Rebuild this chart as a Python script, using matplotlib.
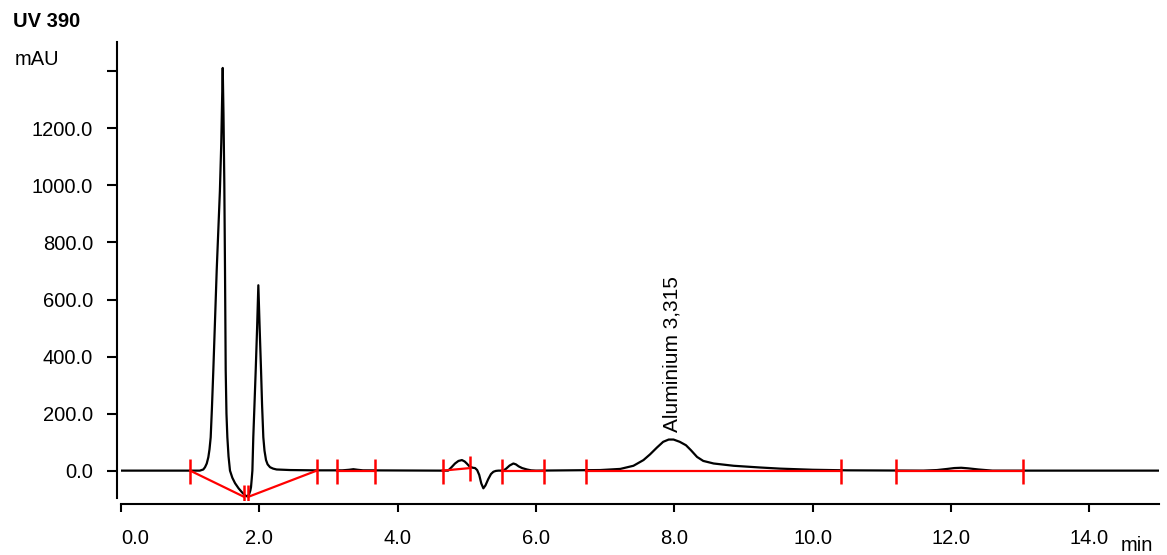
import numpy as np
import matplotlib
matplotlib.use("Agg")
import matplotlib.pyplot as plt
from matplotlib.ticker import FixedLocator, FuncFormatter

plt.rcParams['font.family'] = ['Liberation Sans', 'DejaVu Sans']

# chromatogram trace (min, mAU)
time_min = [0.0, 1.10, 1.14, 1.19, 1.215, 1.24, 1.263, 1.28, 1.297, 1.315,
            1.335, 1.36, 1.384, 1.41, 1.43, 1.45, 1.462, 1.471, 1.482, 1.494,
            1.504, 1.514, 1.525, 1.538, 1.555, 1.576, 1.61, 1.649, 1.70, 1.746,
            1.79, 1.82, 1.85, 1.87, 1.88, 1.89, 1.90, 1.913, 1.93, 1.948,
            1.968, 1.986, 2.005, 2.025, 2.04, 2.058, 2.075, 2.097, 2.12, 2.155,
            2.2, 2.25, 2.45, 2.8, 3.2, 3.3, 3.36, 3.42, 3.5, 4.60,
            4.73, 4.78, 4.83, 4.88, 4.93, 4.97, 5.00, 5.03, 5.05, 5.09,
            5.12, 5.15, 5.18, 5.21, 5.24, 5.27, 5.31, 5.35, 5.385, 5.42,
            5.457, 5.53, 5.57, 5.62, 5.674, 5.71, 5.75, 5.80, 5.87, 5.93,
            6.0, 6.93, 7.22, 7.41, 7.555, 7.65, 7.75, 7.84, 7.92, 7.99,
            8.08, 8.17, 8.24, 8.33, 8.42, 8.57, 8.86, 9.24, 9.53, 10.0,
            10.5, 11.6, 11.8, 11.95, 12.05, 12.15, 12.25, 12.4, 12.5, 12.6,
            15.01]
signal_mau = [0, 0, 0, 4, 12, 25, 47, 75, 117, 220,
              352, 530, 703, 860, 980, 1150, 1300, 1412, 1250, 1007,
              703, 352, 200, 117, 50, 0, -25, -44, -62, -75,
              -86, -90, -85, -70, -58, -30, 0, 117, 230, 352,
              500, 650, 500, 352, 230, 117, 70, 37, 22, 12,
              7, 4, 2, 1, 1, 3, 5, 3, 1, 0,
              0, 12, 25, 34, 37, 32, 25, 17, 13, 10,
              9, 2, -15, -45, -62, -52, -30, -12, -4, -1,
              0, 0, 7, 18, 25, 22, 15, 9, 4, 1,
              0, 2, 6, 17, 37, 57, 81, 101, 109, 109,
              101, 89, 72, 48, 34, 25, 17, 11, 7, 3,
              1, 0, 2, 6, 9, 10, 8, 4, 2, 0,
              0]

# integration baselines: (start time, start mAU, end time, end mAU)
base_t0 = [1.00, 1.84, 3.12, 4.65, 5.51, 6.73, 11.21]
base_v0 = [0, -92, 0, 0, 0, 0, 0]
base_t1 = [1.78, 2.83, 3.67, 5.05, 6.11, 10.41, 13.04]
base_v1 = [-92, 0, 0, 9, 0, 0, 0]

peak_name = "Aluminium 3,315"
peak_t = 7.97
peak_v = 135

x_ticks = [0, 2, 4, 6, 8, 10, 12, 14]
y_ticks = [0, 200, 400, 600, 800, 1000, 1200, 1400]
y_labelled = [0, 200, 400, 600, 800, 1000, 1200]

W, H = 1167, 555
fig = plt.figure(figsize=(W / 100, H / 100), dpi=100)
ax = fig.add_axes([121 / W, (H - 500) / H, (1159 - 121) / W, (500 - 42) / H])

ax.plot(time_min, signal_mau, color='black', lw=1.6, zorder=2,
        solid_joinstyle='round')
for t0, v0, t1, v1 in zip(base_t0, base_v0, base_t1, base_v1):
    ax.plot([t0, t1], [v0, v1], color='#ff0000', lw=1.6, zorder=3,
            marker='|', markersize=18, markeredgewidth=1.8)

ax.text(peak_t, peak_v, peak_name, rotation=90, ha='center', va='bottom', fontsize=15)

ax.set_xlim(0, 15.01)
ax.set_ylim(-103, 1503)

for s in ['top', 'right']:
    ax.spines[s].set_visible(False)
ax.spines['left'].set_position(('outward', 3))
ax.spines['bottom'].set_position(('outward', 3))
ax.spines['left'].set_bounds(-96, 1503)
for s in ['left', 'bottom']:
    ax.spines[s].set_linewidth(1.5)

ax.xaxis.set_major_locator(FixedLocator(x_ticks))
ax.yaxis.set_major_locator(FixedLocator(y_ticks))
ax.xaxis.set_major_formatter(FuncFormatter(lambda v, p: "%.1f" % v))
ax.yaxis.set_major_formatter(FuncFormatter(lambda v, p: "%.1f" % v if v in y_labelled else ""))
ax.tick_params(axis='y', length=7, width=1.5, pad=10, labelsize=14.5)
ax.tick_params(axis='x', length=6, width=1.5, pad=12, labelsize=14.5)
ax.get_xticklabels()[0].set_horizontalalignment('left')

fig.text(13 / W, 1 - 27 / H, "UV 390", fontsize=14.5, fontweight='bold', va='baseline')
fig.text(15 / W, 1 - 65 / H, "mAU", fontsize=14.5, va='baseline')
fig.text(1121 / W, 1 - 551 / H, "min", fontsize=14.5, va='baseline')

fig.savefig("out.png", dpi=100)
